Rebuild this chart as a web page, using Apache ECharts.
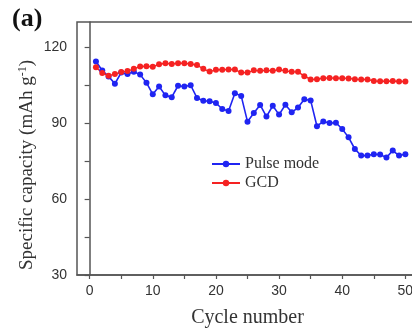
<!DOCTYPE html>
<html>
<head>
<meta charset="utf-8">
<script src="https://cdn.jsdelivr.net/npm/echarts@6/dist/echarts.min.js"></script>
<style>html,body{margin:0;padding:0;background:#fff}#c{width:412px;height:329px}</style>
</head>
<body>
<div id="c"></div>
<script>
const cycles = [1,2,3,4,5,6,7,8,9,10,11,12,13,14,15,16,17,18,19,20,21,22,23,24,25,26,27,28,29,30,31,32,33,34,35,36,37,38,39,40,41,42,43,44,45,46,47,48,49,50];
const pulseMode = [114.4,110.8,108.5,105.6,110,109.4,110.3,109.2,106,101.4,104.5,101,100.3,104.8,104.5,105,100,98.9,98.7,98,95.6,94.8,101.8,100.8,90.6,94,97.2,92.6,96.9,93.4,97.3,94.3,96.2,99.5,99,88.8,90.7,90.1,90.2,87.7,84.4,79.8,77.2,77.2,77.7,77.6,76.4,79.2,77.2,77.7];
const gcd = [112.1,109.8,108.8,109.4,110.2,110.6,111.5,112.4,112.5,112.3,113.3,113.7,113.4,113.7,113.7,113.4,113,111.5,110.4,111.1,111.1,111.2,111.2,110,110,110.9,110.7,110.9,110.7,111.2,110.7,110.3,110.3,108.6,107.3,107.4,107.8,107.9,107.8,107.8,107.7,107.4,107.3,107.3,106.7,106.6,106.6,106.7,106.5,106.5];
const xTickLabels = [0,10,20,30,40,50];
const xTicks = [0,5,10,15,20,25,30,35,40,45,50];
const yTickLabels = [30,60,90,120];
const yTicks = [30,45,60,75,90,105,120];

const chart = echarts.init(document.getElementById('c'), null, {renderer:'canvas'});
const axisColor = '#555';
const serif = 'Liberation Serif';
const sans = 'Liberation Sans';
chart.setOption({
  animation: false,
  backgroundColor: '#fff',
  grid: {left: 77, top: 22, width: 341, height: 253, containLabel: false, outerBoundsMode: 'none',
         show: true, borderColor: axisColor, borderWidth: 1.5, backgroundColor: 'transparent'},
  xAxis: {
    type: 'value', min: -2, max: 52,
    axisLine: {show: true, lineStyle: {color: axisColor, width: 1.5}},
    axisTick: {show: true, customValues: xTicks, length: 4, lineStyle: {color: axisColor, width: 1.2}},
    axisLabel: {customValues: xTickLabels, color: '#333', fontFamily: sans, fontSize: 14, margin: 9},
    splitLine: {show: false},
    name: 'Cycle number', nameLocation: 'middle', nameGap: 33,
    nameTextStyle: {fontFamily: serif, fontSize: 20, color: '#333'}
  },
  yAxis: {
    type: 'value', min: 30, max: 130,
    axisLine: {show: true, lineStyle: {color: axisColor, width: 1.5}},
    axisTick: {show: true, customValues: yTicks, length: 5, lineStyle: {color: axisColor, width: 1.2}},
    axisLabel: {customValues: yTickLabels, color: '#333', fontFamily: sans, fontSize: 14, margin: 10},
    splitLine: {show: false}
  },
  legend: {
    left: 206, top: 151, orient: 'vertical', itemWidth: 28, itemHeight: 8, itemGap: 3,
    textStyle: {fontFamily: serif, fontSize: 16, color: '#333'},
    data: ['Pulse mode', 'GCD']
  },
  graphic: [
    {type: 'text', left: 12, top: 6, style: {text: '(a)', fontFamily: serif, fontSize: 26, fontWeight: 'bold', fill: '#111'}},
    {type: 'text', x: 27, y: 165, rotation: Math.PI/2,
     style: {text: '{n|Specific capacity (mAh g}{s|-1}{n|)}', align: 'center', verticalAlign: 'middle',
       rich: {n: {fontFamily: serif, fontSize: 19, fill: '#333', color: '#333'},
              s: {fontFamily: serif, fontSize: 12, fill: '#333', color: '#333', verticalAlign: 'top', padding: [0,0,8,0]}}}}
  ],
  series: [
    {name: 'Pulse mode', type: 'line', data: cycles.map((c,i)=>[c, pulseMode[i]]),
     symbol: 'circle', symbolSize: 6, color: '#1f24f2', lineStyle: {width: 1.6, color: '#1f24f2'}, itemStyle: {color: '#1f24f2'}},
    {name: 'GCD', type: 'line', data: cycles.map((c,i)=>[c, gcd[i]]),
     symbol: 'circle', symbolSize: 6, color: '#f52222', lineStyle: {width: 1.4, color: '#f52222'}, itemStyle: {color: '#f52222'}}
  ]
});
</script>
</body>
</html>
